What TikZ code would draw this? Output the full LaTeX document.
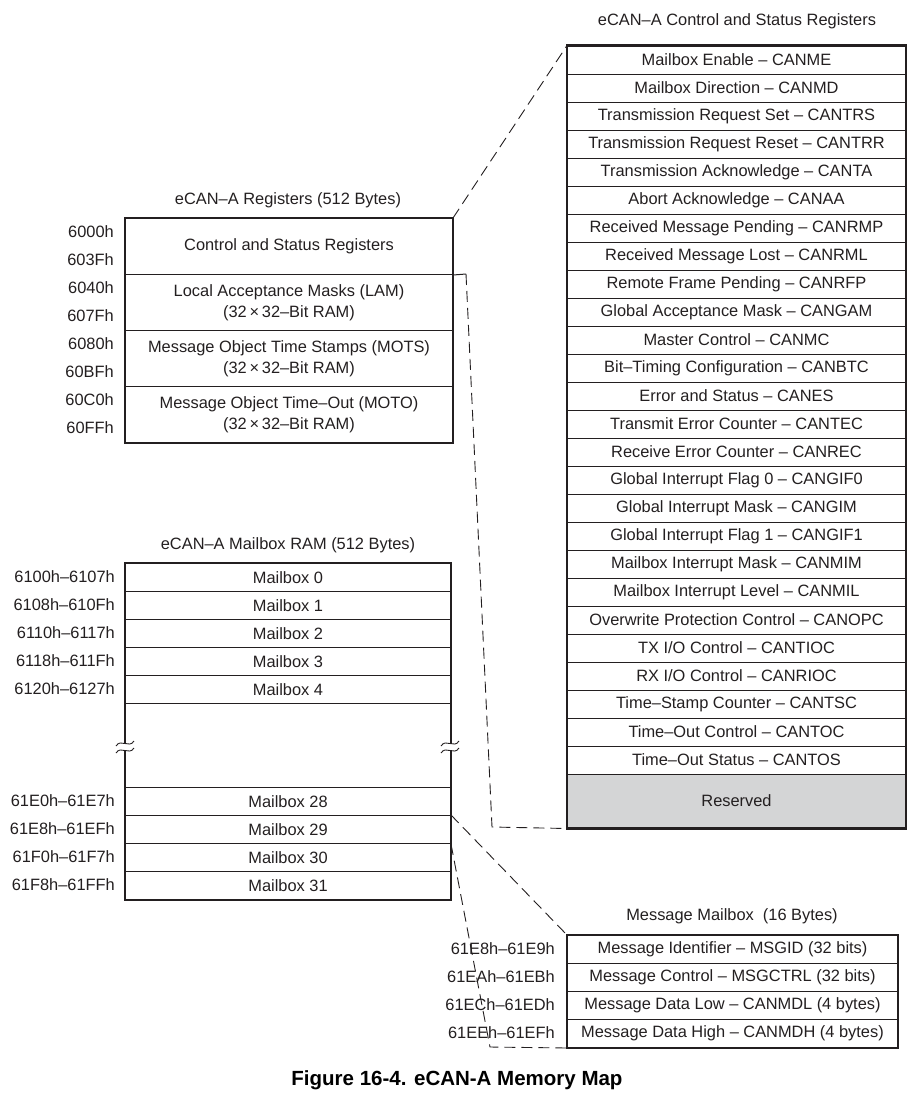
\documentclass[tikz,border=0pt]{standalone}
\usepackage{fontspec}
\setmainfont{Liberation Sans}
\usetikzlibrary{calc}
\definecolor{ink}{HTML}{231F20}
\definecolor{resgray}{HTML}{D4D5D6}
\begin{document}
\begin{tikzpicture}[x=1pt,y=-1pt,
  every node/.style={text=ink,font=\fontsize{16.4}{20.5}\selectfont,inner sep=0pt},
  cell/.style={draw=ink,line width=1pt,anchor=north west,minimum height=28pt},
  bigcell/.style={draw=ink,line width=1pt,anchor=north west,minimum height=56pt,align=center},
  frame/.style={draw=ink,line width=2.7pt},
  conn/.style={draw=ink,line width=0.9pt,dash pattern=on 11pt off 6pt},
  addr/.style={anchor=east},
  ttl/.style={anchor=center}]
\useasboundingbox (0,0) rectangle (912,1096);

% ---------- Right table: Control and Status Registers ----------
\node[ttl] (csT) at (737,21) {eCAN–A Control and Status Registers};
\foreach \t [count=\i] in {Mailbox Enable – CANME,Mailbox Direction – CANMD,Transmission Request Set – CANTRS,Transmission Request Reset – CANTRR,Transmission Acknowledge – CANTA,Abort Acknowledge – CANAA,Received Message Pending – CANRMP,Received Message Lost – CANRML,Remote Frame Pending – CANRFP,Global Acceptance Mask – CANGAM,Master Control – CANMC,Bit–Timing Configuration – CANBTC,Error and Status – CANES,Transmit Error Counter – CANTEC,Receive Error Counter – CANREC,Global Interrupt Flag 0 – CANGIF0,Global Interrupt Mask – CANGIM,Global Interrupt Flag 1 – CANGIF1,Mailbox Interrupt Mask – CANMIM,Mailbox Interrupt Level – CANMIL,Overwrite Protection Control – CANOPC,TX I/O Control – CANTIOC,RX I/O Control – CANRIOC,Time–Stamp Counter – CANTSC,Time–Out Control – CANTOC,Time–Out Status – CANTOS}
  \node[cell,minimum width=338pt] (cs\i) at (567,{45.5+28*(\i-1)}) {\t};
\node[cell,minimum width=338pt,minimum height=54pt,fill=resgray] (csR) at (567,773.5) {Reserved};
\draw[frame] (cs1.north west) rectangle (csR.south east);

% ---------- Left: eCAN-A Registers ----------
\node[ttl] (lrT) at (288,200) {eCAN–A Registers (512 Bytes)};
\node[bigcell,minimum width=327pt] (lr1) at (125,218) {Control and Status Registers};
\node[bigcell,minimum width=327pt] (lr2) at (125,274) {Local Acceptance Masks (LAM)\\(32\,×\,32–Bit RAM)};
\node[bigcell,minimum width=327pt] (lr3) at (125,330) {Message Object Time Stamps (MOTS)\\(32\,×\,32–Bit RAM)};
\node[bigcell,minimum width=327pt] (lr4) at (125,386) {Message Object Time–Out (MOTO)\\(32\,×\,32–Bit RAM)};
\draw[frame] (lr1.north west) rectangle (lr4.south east);
\foreach \t/\y [count=\i] in {6000h/232,603Fh/260,6040h/288,607Fh/316,6080h/344,60BFh/372,60C0h/400,60FFh/428}
  \node[addr] (la\i) at (114,\y) {\t};

% ---------- Left: Mailbox RAM ----------
\node[ttl] (mbT) at (288,545) {eCAN–A Mailbox RAM (512 Bytes)};
\foreach \n/\a [count=\i] in {0/6100h–6107h,1/6108h–610Fh,2/6110h–6117h,3/6118h–611Fh,4/6120h–6127h}{
  \node[cell,minimum width=325pt] (mb\n) at (125,{563+28*(\i-1)}) {Mailbox \n};
  \node[addr] (ma\n) at (115,{577+28*(\i-1)}) {\a};
}
\foreach \n/\a [count=\i] in {28/61E0h–61E7h,29/61E8h–61EFh,30/61F0h–61F7h,31/61F8h–61FFh}{
  \node[cell,minimum width=325pt] (mb\n) at (125,{787+28*(\i-1)}) {Mailbox \n};
  \node[addr] (ma\n) at (115,{801+28*(\i-1)}) {\a};
}
\draw[frame] (mb0.north west) rectangle (mb31.south east);
% break marks
\foreach \bx in {125,450}{
  \fill[white] (\bx-3,744) rectangle (\bx+3,750);
  \draw[ink,line width=0.9pt] (\bx-9,746) .. controls (\bx-4,738) and (\bx+4,749) .. (\bx+9,741);
  \draw[ink,line width=0.9pt] (\bx-9,753) .. controls (\bx-4,745) and (\bx+4,756) .. (\bx+9,748);
}

% ---------- Message Mailbox ----------
\node[ttl] (mmT) at (732,916) {Message Mailbox\ \ (16 Bytes)};
\foreach \t/\a [count=\i] in {Message Identifier – MSGID (32 bits)/61E8h–61E9h,Message Control – MSGCTRL (32 bits)/61EAh–61EBh,Message Data Low – CANMDL (4 bytes)/61ECh–61EDh,Message Data High – CANMDH (4 bytes)/61EEh–61EFh}{
  \node[cell,minimum width=330pt] (mm\i) at (567,{935+28*(\i-1)}) {\t};
  \node[addr] (mma\i) at (555,{949+28*(\i-1)}) {\a};
}
\draw[frame] (mm1.north west) rectangle (mm4.south east);

% ---------- Connectors ----------
\coordinate (k1) at (466,274);
\coordinate (k2) at (492,827);
\coordinate (k3) at (490,1047);
\draw[conn] (lr1.north east) -- (cs1.north west);
\draw[ink,line width=1pt] (lr1.south east) -- (k1);
\draw[conn] (k1) -- (k2) -- (csR.south west);
\draw[conn] (mb29.north east) -- (mm1.north west);
\draw[conn] (mb29.south east) -- (k3) -- (mm4.south west);

% ---------- Caption ----------
\node[font=\fontsize{20.5}{24}\selectfont\bfseries,text=black] (cap) at (457,1080) {Figure 16-4. eCAN-A Memory Map};
\end{tikzpicture}
\end{document}
